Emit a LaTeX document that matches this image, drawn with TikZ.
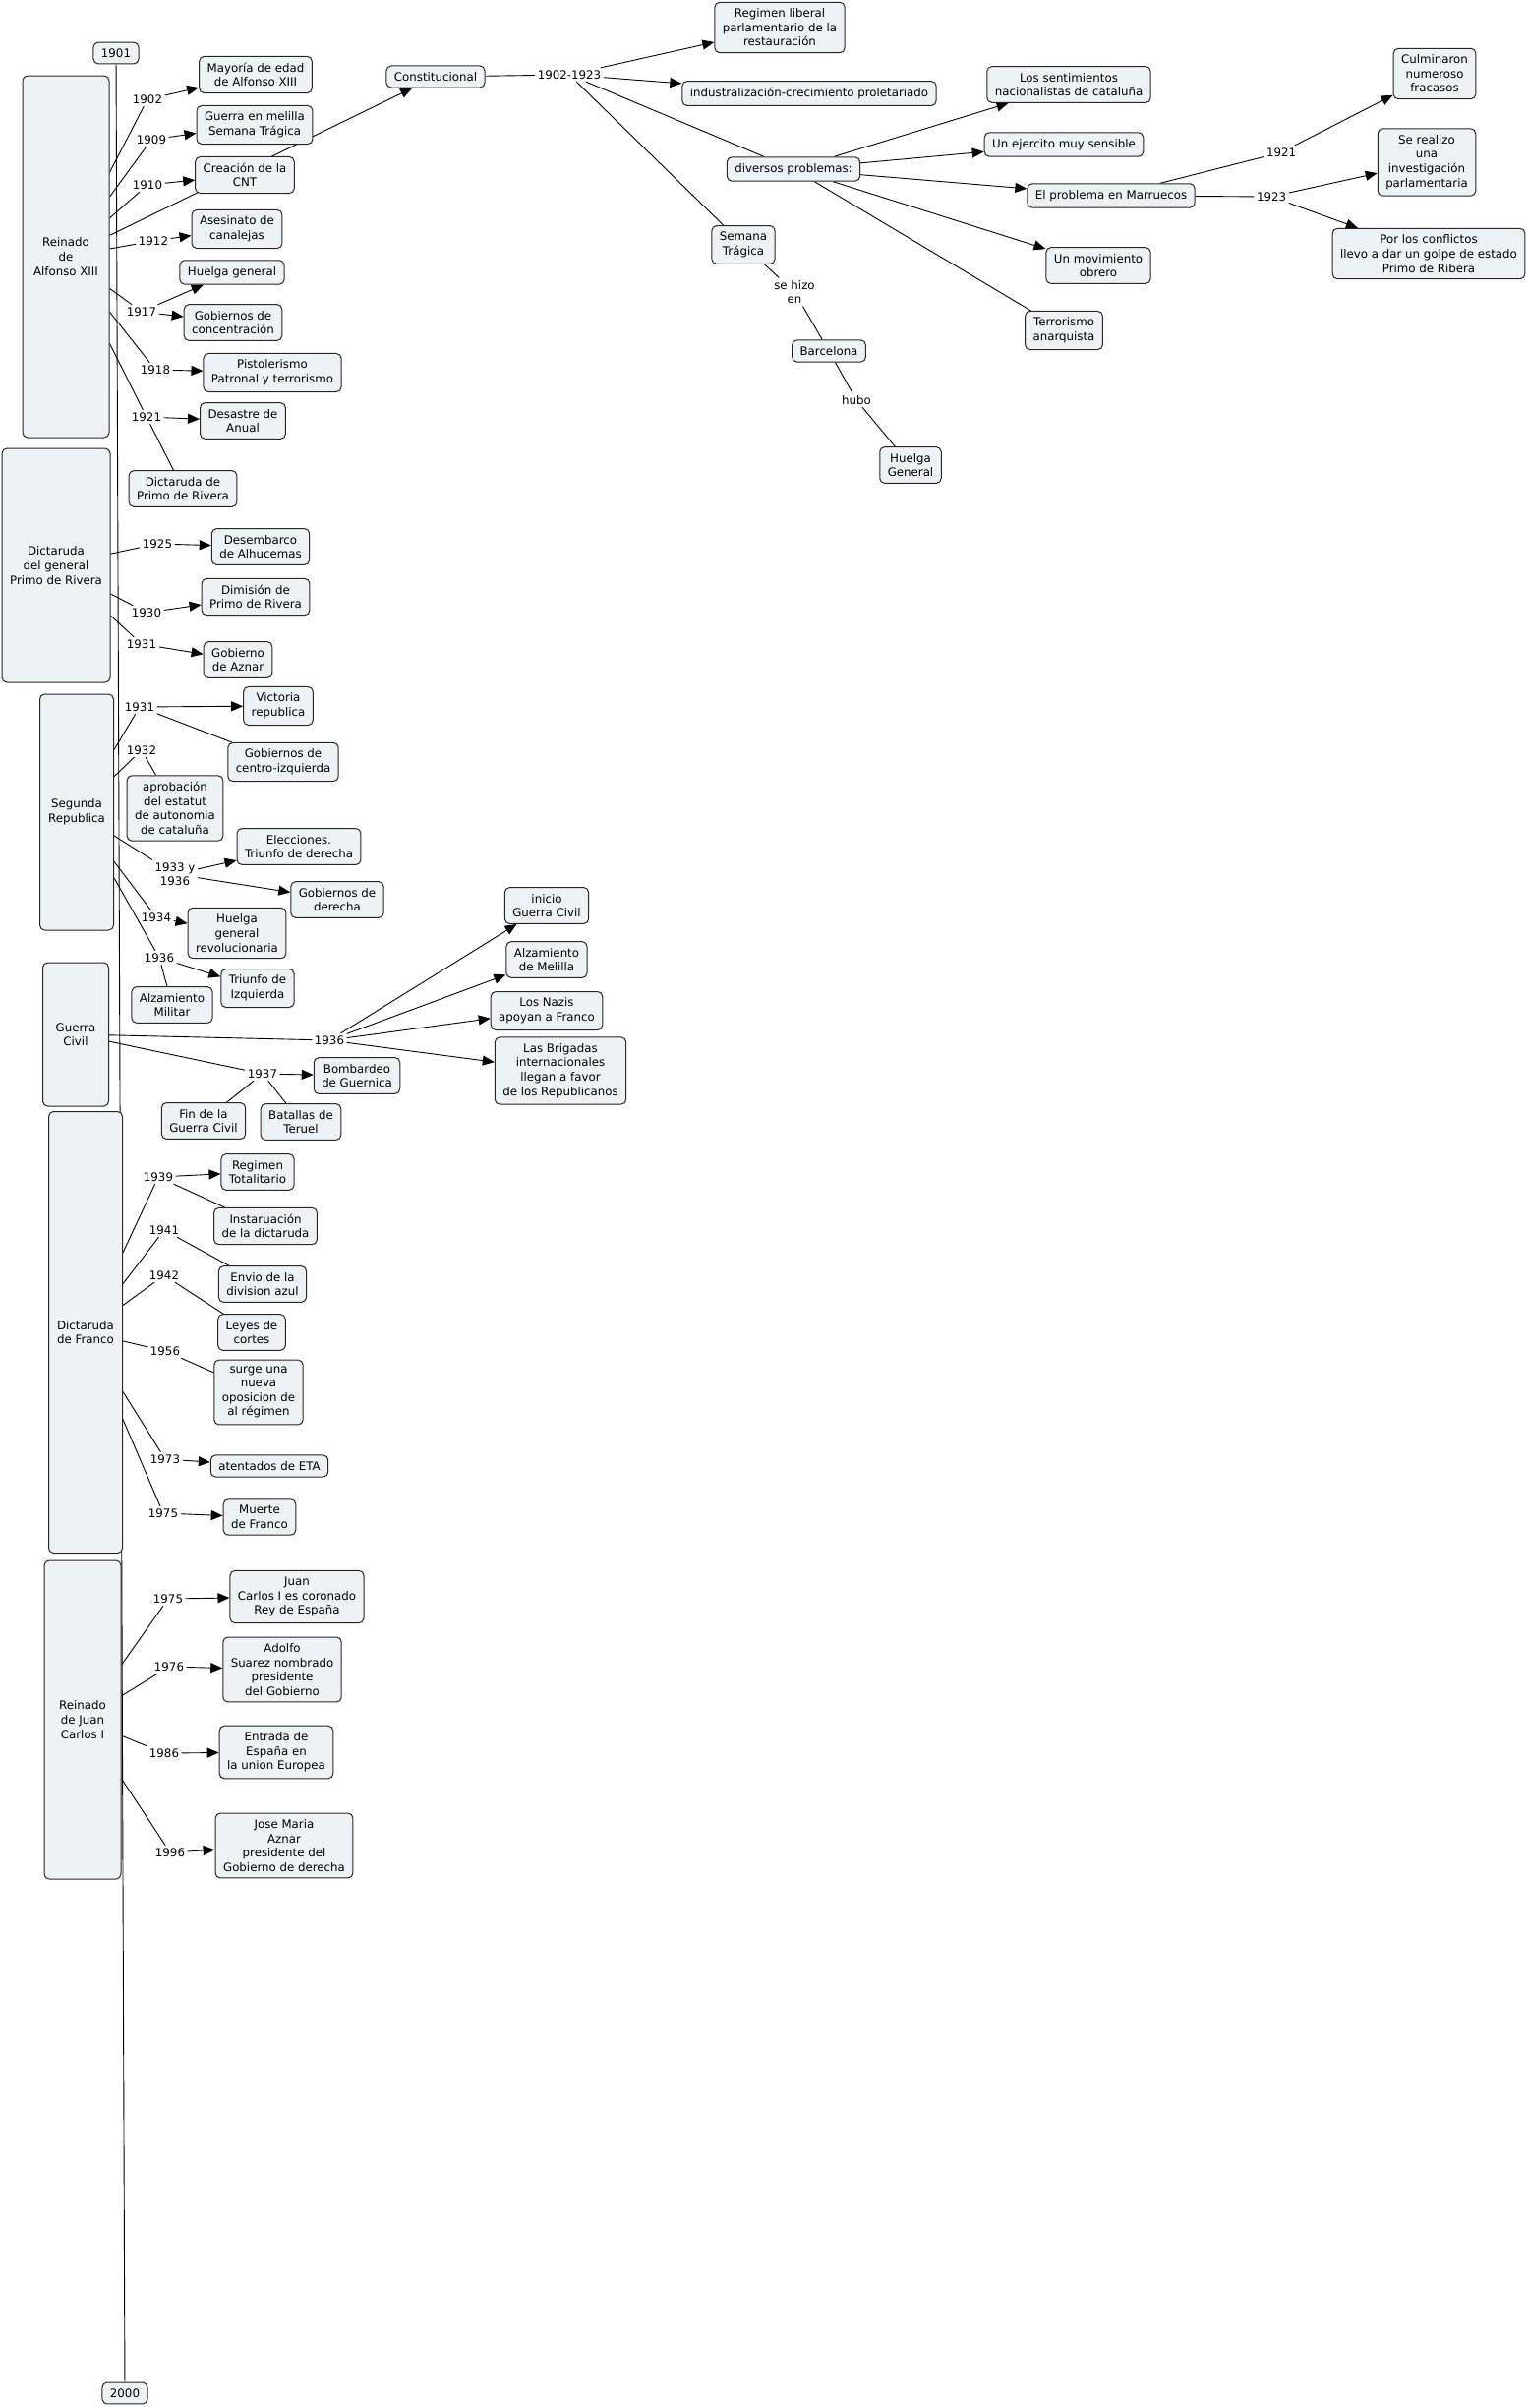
\documentclass[tikz,border=0pt]{standalone}
\usepackage{fontspec}
\setmainfont{DejaVu Sans}
\usetikzlibrary{positioning,arrows.meta,backgrounds}
\definecolor{conceptfill}{HTML}{EDF3F5}
\definecolor{conceptline}{HTML}{262626}

\begin{document}
\begin{tikzpicture}[x=1pt, y=-1pt,
        every node/.style={font=\fontsize{11.8}{14.6}\selectfont, align=center},
        concept/.style={draw=conceptline, fill=conceptfill, rounded corners=5pt,
                        line width=1pt, inner xsep=8pt, inner ysep=6.5pt},
        period/.style={concept},
        linking/.style={inner sep=2.5pt},
        link/.style={draw=black, line width=0.9pt},
        >={Triangle[length=12pt,width=10pt]}]
    \useasboundingbox (0,0) rectangle (1554,2449);

    \foreach \n/\x/\y/\w/\h/\txt in {
            alfonso/67/261/88/368/{Reinado\\de\\Alfonso XIII},
            primo/57/575/110/238/{Dictaruda\\del general\\Primo de Rivera},
            republica/78/826/75/240/{Segunda\\Republica},
            guerra/77/1052/67/146/{Guerra\\Civil},
            franco/87/1355/75/449/{Dictaruda\\de Franco},
            juancarlos/84/1749/78/324/{Reinado\\de Juan\\Carlos I}}{
        \node[period, minimum width=\w pt, minimum height=\h pt] (\n) at (\x,\y) {\txt};
    }

    \foreach \n/\x/\y/\txt in {
            y1901/118/54/1901, y2000/127/2434/2000,
            mayoria/260/76/{Mayoría de edad\\de Alfonso XIII},
            melilla/259/127/{Guerra en melilla\\Semana Trágica},
            cnt/249/178/{Creación de la\\CNT},
            canalejas/241/233/{Asesinato de\\canalejas},
            huelga/236/277/{Huelga general},
            concentracion/237/328/{Gobiernos de\\concentración},
            pistolerismo/277/379/{Pistolerismo\\Patronal y terrorismo},
            anual/247/428/{Desastre de\\Anual},
            primosmall/186/497/{Dictaruda de\\Primo de Rivera},
            constitucional/443/78/Constitucional,
            regimen/793/28/{Regimen liberal\\parlamentario de la\\restauración},
            industria/823/95/{industralización-crecimiento proletariado},
            diversos/807/172/{diversos problemas:},
            semana/756/249/{Semana\\Trágica},
            barcelona/843/357/Barcelona,
            huelgagen/926/473/{Huelga\\General},
            sentimientos/1087/86/{Los sentimientos\\nacionalistas de cataluña},
            ejercito/1082/147/{Un ejercito muy sensible},
            marruecos/1130/199/{El problema en Marruecos},
            obrero/1117/270/{Un movimiento\\obrero},
            terrorismo/1082/336/{Terrorismo\\anarquista},
            culminaron/1459/75/{Culminaron\\numeroso\\fracasos},
            serealizo/1451/165/{Se realizo\\una\\investigación\\parlamentaria},
            conflictos/1453/258/{Por los conflictos\\llevo a dar un golpe de estado\\Primo de Ribera},
            desembarco/265/556/{Desembarco\\de Alhucemas},
            dimision/260/607/{Dimisión de\\Primo de Rivera},
            gobaznar/242/671/{Gobierno\\de Aznar},
            victoria/283/718/{Victoria\\republica},
            centroizq/288/775/{Gobiernos de\\centro-izquierda},
            aprobacion/178/822/{aprobación\\del estatut\\de autonomia\\de cataluña},
            elecciones/304/861/{Elecciones.\\Triunfo de derecha},
            gobderecha/343/915/{Gobiernos de\\derecha},
            huelgarev/241/949/{Huelga\\general\\revolucionaria},
            triunfo/262/1005/{Triunfo de\\Izquierda},
            alzmilitar/175/1022/{Alzamiento\\Militar},
            inicio/556/921/{inicio\\Guerra Civil},
            alzmelilla/556/976/{Alzamiento\\de Melilla},
            nazis/556/1028/{Los Nazis\\apoyan a Franco},
            brigadas/570/1089/{Las Brigadas\\internacionales\\llegan a favor\\de los Republicanos},
            guernica/363/1094/{Bombardeo\\de Guernica},
            finguerra/207/1140/{Fin de la\\Guerra Civil},
            teruel/306/1141/{Batallas de\\Teruel},
            totalitario/262/1192/{Regimen\\Totalitario},
            instauracion/270/1247/{Instaruación\\de la dictaruda},
            envio/267/1306/{Envio de la\\division azul},
            leyes/256/1355/{Leyes de\\cortes},
            oposicion/263/1416/{surge una\\nueva\\oposicion de\\al régimen},
            eta/274/1491/{atentados de ETA},
            muerte/264/1543/{Muerte\\de Franco},
            coronado/302/1624/{Juan\\Carlos I es coronado\\Rey de España},
            suarez/287/1698/{Adolfo\\Suarez nombrado\\presidente\\del Gobierno},
            europa/281/1782/{Entrada de\\España en\\la union Europea},
            aznar/289/1877/{Jose Maria\\Aznar\\presidente del\\Gobierno de derecha}}{
        \node[concept] (\n) at (\x,\y) {\txt};
    }

    \foreach \n/\x/\y/\txt in {
            l1902/150/101/1902, l1909/154/142/1909, l1910/150/188/1910,
            l1912/156/245/1912, l1917/144/317/1917, l1918/158/376/1918,
            l1921/149/424/1921, l1902b/579/76/1902-1923,
            lsehizo/808/297/{se hizo\\en}, lhubo/871/407/hubo,
            l1921b/1303/155/1921, l1923/1293/200/1923,
            l1925/160/553/1925, l1930/149/623/1930, l1931a/144/655/1931,
            l1931b/142/719/1931, l1932/144/763/1932, l1933/178/889/{1933 y\\1936},
            l1934/159/933/1934, l1936a/162/974/1936,
            l1936b/335/1058/1936, l1937/267/1092/1937,
            l1939/161/1197/1939, l1941/167/1251/1941, l1942/167/1297/1942,
            l1956/168/1374/1956, l1973/168/1484/1973, l1975a/166/1539/1975,
            l1975b/171/1626/1975, l1976/172/1695/1976, l1986/167/1783/1986,
            l1996/173/1884/1996}{
        \node[linking] (\n) at (\x,\y) {\txt};
    }

    \begin{scope}[on background layer]
        \draw[link] (y1901) -- (y2000);
        \foreach \a/\b in {alfonso/l1902, alfonso/l1909, alfonso/l1910, alfonso/l1912,
                           alfonso/l1917, alfonso/l1918, alfonso/l1921, l1921/primosmall,
                           constitucional/l1902b, l1902b/diversos, l1902b/semana,
                           semana/lsehizo, lsehizo/barcelona, barcelona/lhubo, lhubo/huelgagen,
                           diversos/terrorismo, marruecos/l1921b, marruecos/l1923,
                           primo/l1925, primo/l1930, primo/l1931a,
                           republica/l1931b, l1931b/centroizq, republica/l1932, l1932/aprobacion,
                           republica/l1933, republica/l1934, republica/l1936a, l1936a/alzmilitar,
                           guerra/l1936b, guerra/l1937, l1937/finguerra, l1937/teruel,
                           franco/l1939, l1939/instauracion, franco/l1941, l1941/envio,
                           franco/l1942, l1942/leyes, franco/l1956, l1956/oposicion,
                           franco/l1973, franco/l1975a,
                           juancarlos/l1975b, juancarlos/l1976, juancarlos/l1986, juancarlos/l1996}{
            \draw[link] (\a) -- (\b);
        }
        \foreach \a/\b in {l1902/mayoria, l1909/melilla, l1910/cnt, l1912/canalejas,
                           l1917/huelga, l1917/concentracion, l1918/pistolerismo, l1921/anual,
                           alfonso/constitucional, l1902b/regimen, l1902b/industria,
                           diversos/sentimientos, diversos/ejercito, diversos/marruecos, diversos/obrero,
                           l1921b/culminaron, l1923/serealizo, l1923/conflictos,
                           l1925/desembarco, l1930/dimision, l1931a/gobaznar,
                           l1931b/victoria, l1933/elecciones, l1933/gobderecha, l1934/huelgarev,
                           l1936a/triunfo, l1936b/inicio, l1936b/alzmelilla, l1936b/nazis,
                           l1936b/brigadas, l1937/guernica, l1939/totalitario, l1973/eta,
                           l1975a/muerte, l1975b/coronado, l1976/suarez, l1986/europa, l1996/aznar}{
            \draw[link, ->] (\a) -- (\b);
        }
    \end{scope}
\end{tikzpicture}
\end{document}
